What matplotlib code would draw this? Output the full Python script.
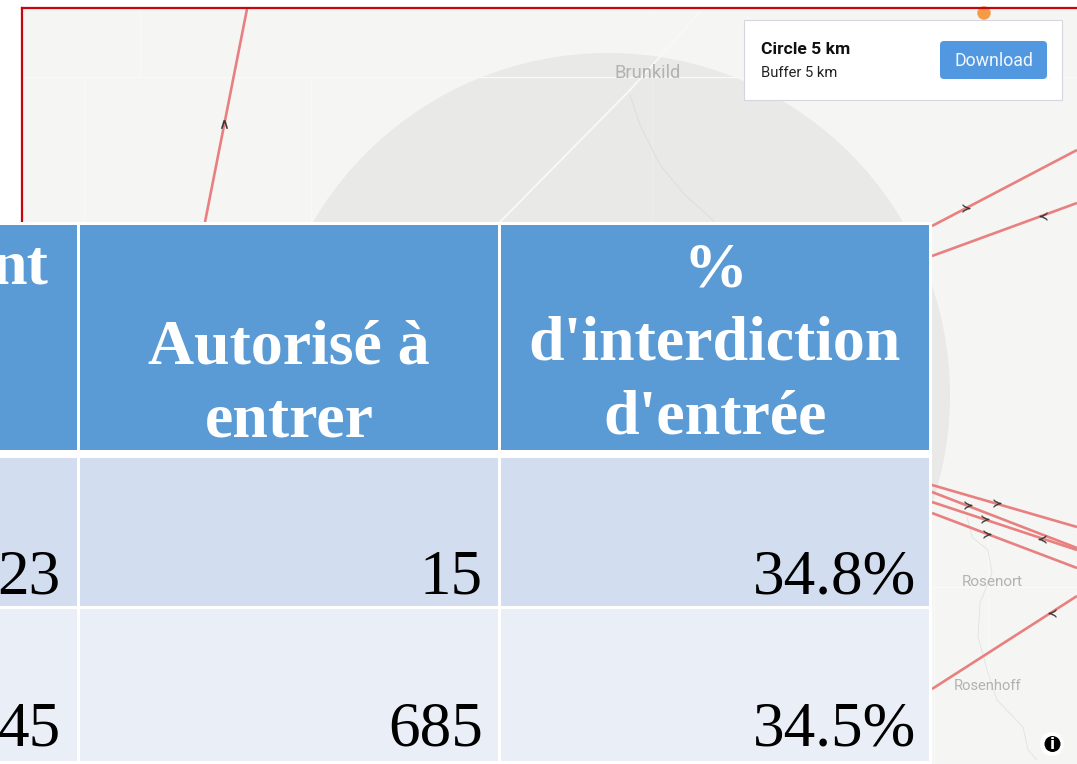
import matplotlib
matplotlib.use('Agg')
import matplotlib.pyplot as plt
from matplotlib.patches import Circle, FancyBboxPatch, Rectangle

# table contents
header_labels = ['nt', 'Autorisé à\nentrer', "%\nd'interdiction\nd'entrée"]
row1_values = ['23', '15', '34.8%']
row2_values = ['45', '685', '34.5%']

# table geometry (pixels)
col_left = [-10, 80, 501]
col_right = [77, 498, 929]
col_text_right = [61, 483, 916]
row_top = [225, 458, 609, 764]
row_bottom = [450, 606, 761, 770]
row_colors = ['#5b9bd5', '#d2deef', '#eaeff7', '#d2deef']

# red routes on the map: (x0, y0, x1, y1)
routes = [
    (247, 9, 205, 222),
    (932, 226, 1077, 150),
    (932, 256, 1077, 203),
    (932, 485, 1077, 527),
    (932, 492, 1077, 548),
    (932, 502, 1077, 550),
    (932, 513, 1077, 568),
    (932, 689, 1077, 596),
]
arrows = [
    (224, 124, '^'), (966, 208, '>'), (1043, 216, '<'), (968, 505, '>'), (997, 503, '>'),
    (985, 519, '>'), (987, 534, '>'), (1042, 539, '<'), (1052, 613, '<'),
]

# pale road grid: (x0, y0, x1, y1)
roads = [
    (23, 77, 1077, 77), (84, 77, 84, 222), (140, 9, 140, 77), (311, 77, 311, 222),
    (932, 587, 1077, 587), (934, 587, 934, 764), (988, 540, 988, 680),
]
faint_road = [(652, 9), (652, 222)]
river = [(630, 95), (640, 125), (660, 165), (685, 195), (715, 222)]
river2 = [(967, 517), (972, 537), (988, 550), (992, 573), (980, 603), (978, 637), (990, 680),
          (997, 700), (1023, 727), (1028, 750), (1037, 760)]
highway = [(500, 222), (630, 90), (700, 12)]
town_labels = [('Brunkild', 648, 73, 13.2), ('Rosenort', 992, 582, 11), ('Rosenhoff', 988, 686, 10.6)]

fig = plt.figure(figsize=(10.77, 7.64), dpi=100, facecolor='white')
ax = fig.add_axes([0, 0, 1, 1])
ax.set_xlim(0, 1077)
ax.set_ylim(764, 0)
ax.axis('off')

# map
ax.add_patch(Rectangle((23, 9), 1060, 760, fc='#f5f5f3', ec='none', zorder=0))
ax.add_patch(Circle((608, 395), 342, fc='#e9e9e7', ec='none', zorder=1))
for x0, y0, x1, y1 in roads:
    ax.plot([x0, x1], [y0, y1], color='#f9f9f8', lw=0.9, zorder=2)
ax.plot(*zip(*faint_road), color='#f9f9f8', lw=0.8, alpha=0.3, zorder=2)
ax.plot(*zip(*highway), color='#f8f8f7', lw=1.4, zorder=2)
ax.plot(*zip(*river), color='#dcdcda', lw=0.6, zorder=2)
ax.plot(*zip(*river2), color='#e2e2e0', lw=0.6, zorder=2)
for name, x, y, size in town_labels:
    ax.text(x, y, name, ha='center', va='center', fontsize=size, color='#b2b2b0', family='Roboto', zorder=3)
for x0, y0, x1, y1 in routes:
    ax.plot([x0, x1], [y0, y1], color='#e88080', lw=1.9, zorder=3, solid_capstyle='butt')
for x, y, m in arrows:
    ax.plot(x, y, marker='$' + {'^': r'\wedge', '>': r'\succ', '<': r'\prec'}[m] + '$',
            ms=6, color='#333333', mew=0.2, zorder=4)

# frame in red, open to the right
ax.plot([22, 22], [222, 8], color='#c8040c', lw=1.6, zorder=5)
ax.plot([22, 1077], [8, 8], color='#c8040c', lw=1.6, zorder=5)
ax.add_patch(Circle((984, 13), 6.5, fc='#f59a45', ec='#f0b070', lw=0.5, zorder=4))

# download card
ax.add_patch(Rectangle((744, 20), 318, 80, fc='white', ec='#d6d6e0', lw=0.8, zorder=6))
ax.text(761, 49, 'Circle 5 km', fontsize=12.6, fontweight='bold', family='Roboto', va='center', color='#111111', zorder=7)
ax.text(761, 73, 'Buffer 5 km', fontsize=10.6, family='Roboto', va='center', color='#222222', zorder=7)
ax.add_patch(FancyBboxPatch((943, 44), 101, 32, boxstyle='round,pad=3,rounding_size=4', fc='#5198e0', ec='none', zorder=7))
ax.text(993.5, 60.5, 'Download', fontsize=12.8, family='Roboto', color='#f2f7fd', ha='center', va='center', zorder=8)

# info button
ax.add_patch(Circle((1052, 744), 12, fc='white', ec='none', zorder=6))
ax.add_patch(Circle((1052.5, 744), 8, fc='black', ec='none', zorder=7))
ax.text(1052.5, 744.5, 'i', color='white', fontsize=11, fontweight='bold', family='DejaVu Sans', ha='center', va='center', zorder=8)

# table
ax.add_patch(Rectangle((-5, 222), 937, 550, fc='white', ec='none', zorder=10))
for r in range(4):
    for c in range(3):
        ax.add_patch(Rectangle((col_left[c], row_top[r]), col_right[c] - col_left[c], row_bottom[r] - row_top[r],
                               fc=row_colors[r], ec='none', zorder=11))

serif = 'Liberation Serif'
ax.text(48, 268, header_labels[0], family=serif, fontweight='bold', fontsize=46, color='white',
        ha='right', va='center', zorder=12)
ax.text(289, 385, header_labels[1], family=serif, fontweight='bold', fontsize=46, color='white',
        ha='center', va='center', linespacing=1.355, zorder=12)
ax.text(715, 345, header_labels[2], family=serif, fontweight='bold', fontsize=46, color='white',
        ha='center', va='center', linespacing=1.355, zorder=12)

for c in range(3):
    ax.text(col_text_right[c], 593, row1_values[c], family=serif, fontsize=45.5, color='black', ha='right',
            va='baseline', zorder=12)
    ax.text(col_text_right[c], 745, row2_values[c], family=serif, fontsize=45.5, color='black', ha='right',
            va='baseline', zorder=12)

fig.savefig('out.png', dpi=100)
